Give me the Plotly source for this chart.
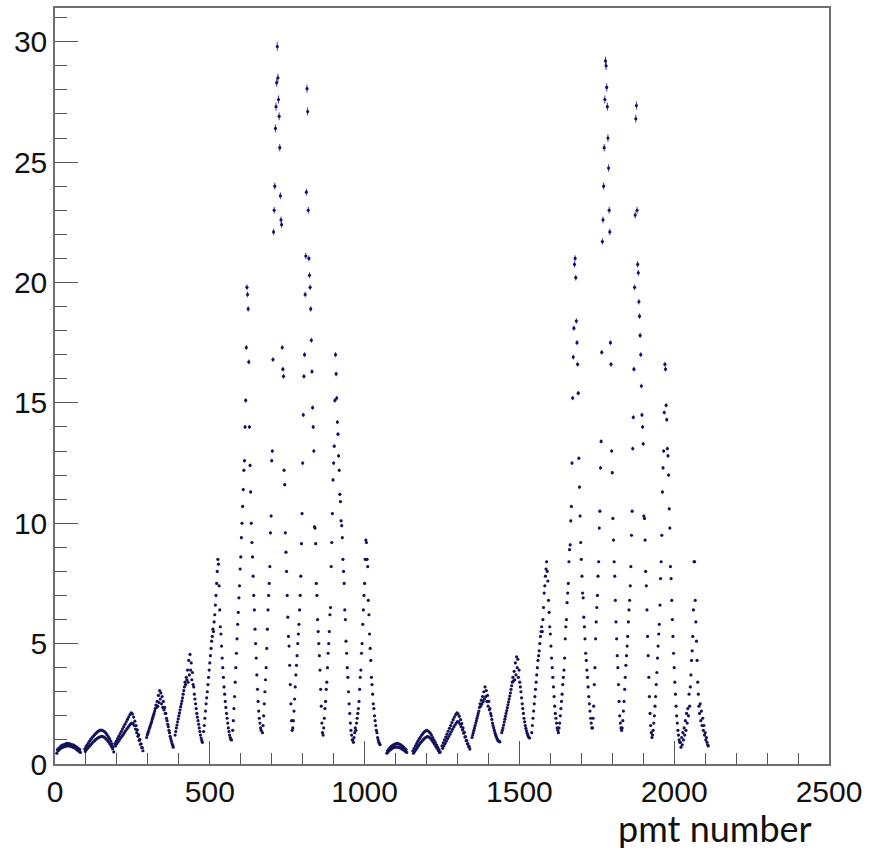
import plotly.graph_objects as go

# ring start PMT numbers (each ring's values sampled every 2nd PMT)
ring_starts = [6, 96, 194, 296, 388, 480, 574, 670, 768, 866, 962,
               1072, 1156, 1250, 1347, 1443, 1540, 1628, 1736, 1832, 1930, 2020]
pmt_step = 2

r01 = [0.45,0.6,0.55,0.65,0.6,0.7,0.65,0.75,0.68,0.78,0.7,0.8,0.72,0.82,0.74,0.85,0.75,0.86,0.76,0.85,
       0.75,0.84,0.74,0.82,0.72,0.8,0.7,0.78,0.68,0.75,0.65,0.72,0.6,0.68,0.56,0.64,0.52,0.6,0.48]
r02 = [0.62,0.52,0.72,0.6,0.8,0.66,0.88,0.72,0.96,0.78,1.03,0.84,1.1,0.9,1.16,0.95,1.22,1.0,1.27,1.04,
       1.32,1.08,1.36,1.11,1.4,1.13,1.41,1.15,1.4,1.14,1.38,1.12,1.34,1.08,1.29,1.03,1.22,0.97,1.14,0.9,
       1.05,0.82,0.95,0.73,0.84,0.63,0.72,0.5]
r03 = [0.85,0.75,0.95,0.85,1.05,0.92,1.15,1.0,1.25,1.08,1.35,1.15,1.45,1.22,1.55,1.3,1.65,1.38,1.75,1.45,
       1.85,1.52,1.95,1.6,2.05,1.66,2.12,1.7,2.08,1.68,1.95,1.6,1.78,1.45,1.6,1.3,1.42,1.15,1.22,0.98,
       1.02,0.82,0.84,0.68,0.68,0.55]
r04 = [1.1,1.2,1.28,1.36,1.45,1.52,1.6,1.68,1.76,1.85,1.94,2.02,2.1,2.2,2.3,2.45,2.35,2.6,2.4,2.85,
       2.55,3.05,2.7,2.95,2.5,2.8,2.35,2.6,2.25,2.35,2.1,2.1,1.9,1.8,1.65,1.55,1.4,1.3,1.15,1.05,
       0.95,0.85,0.78,0.7]
r05 = [1.2,1.35,1.5,1.62,1.75,1.88,2.0,2.12,2.25,2.38,2.5,2.62,2.75,2.9,3.05,3.2,3.4,3.3,3.6,3.5,
       3.9,3.4,4.3,3.7,4.55,3.9,4.2,3.5,3.8,3.3,3.2,2.9,2.7,2.5,2.3,2.1,1.95,1.8,1.65,1.5,
       1.35,1.2,1.08,0.98,0.9]
r06 = [1.35,1.6,1.9,2.2,2.5,2.75,3.0,3.3,3.6,3.9,4.2,4.5,4.8,5.1,5.3,5.6,5.5,5.9,6.2,6.6,
       7.0,7.5,8.0,8.5,8.3,7.4,6.4,5.7,5.4,4.9,4.4,4.0,3.6,3.2,2.9,2.6,2.35,2.1,1.9,1.7,
       1.5,1.35,1.2,1.1,1.02,1.0]
r07 = [1.4,1.8,2.3,2.8,3.4,4.0,4.6,5.2,5.8,6.3,6.9,7.4,8.1,8.6,9.4,10.0,10.7,11.4,12.2,12.6,14.0,15.1,17.3,
       19.8,19.5,18.9,
       16.7,14.0,12.4,11.3,10.0,9.2,8.6,7.8,7.0,6.4,5.6,5.0,4.4,3.7,3.1,2.6,2.2,1.9,1.7,1.5,1.4]
r08 = [1.3,1.6,2.0,2.5,3.0,3.5,4.0,4.8,5.6,6.4,7.0,7.5,8.2,9.6,10.3,12.6,13.0,16.8,
       22.1,23.0,24.0,26.4,27.3,28.3,29.8,28.5,27.6,26.9,25.6,23.6,22.6,22.4,
       17.3,16.4,16.1,12.2,11.6,9.6,8.8,8.0,7.0,6.1,5.3,4.9,4.1,3.3,2.5,1.8,1.4]
r09 = [1.5,1.8,2.2,2.7,3.2,3.7,4.1,4.5,5.0,5.4,5.8,6.4,7.0,7.8,9.15,10.4,12.5,14.5,
       16.1,17.0,19.5,21.1,23.75,28.05,27.1,23.0,21.0,20.3,19.8,18.9,17.6,
       16.3,14.8,14.0,13.0,9.85,9.8,9.15,7.5,7.0,6.0,5.5,5.0,4.5,3.9,3.1,2.4,1.7,1.3]
r10 = [1.2,1.5,1.9,2.3,2.6,3.1,3.4,4.0,4.6,5.0,5.5,6.2,6.5,8.2,9.2,10.4,11.8,
       12.5,13.2,15.1,17.0,16.2,15.2,14.2,13.7,12.8,12.2,11.2,10.9,10.1,
       9.9,9.4,8.5,8.0,7.5,6.4,6.0,5.1,4.6,4.0,3.6,3.0,2.5,2.1,1.7,1.4,1.2,1.0]
r11 = [1.0,0.9,1.1,1.3,1.5,1.4,1.7,1.9,2.1,2.3,2.6,3.1,3.6,3.9,4.6,5.0,5.8,6.4,7.0,7.5,
       8.5,9.3,9.2,8.5,
       8.2,6.8,6.2,5.4,4.8,4.3,3.6,3.3,2.9,2.5,2.3,2.0,1.8,1.6,1.4,1.3,1.1,1.0,0.9,0.85,0.8]
r12 = [0.45,0.55,0.5,0.62,0.56,0.68,0.6,0.73,0.64,0.77,0.67,0.8,0.69,0.83,0.7,0.85,0.71,0.86,0.7,0.84,
       0.68,0.82,0.66,0.78,0.63,0.74,0.6,0.7,0.56,0.65,0.52,0.6,0.48]
r13 = [0.55,0.45,0.65,0.52,0.75,0.6,0.85,0.68,0.94,0.76,1.03,0.83,1.11,0.9,1.19,0.96,1.26,1.02,1.32,1.07,
       1.37,1.11,1.4,1.14,1.38,1.13,1.34,1.1,1.28,1.05,1.2,0.98,1.1,0.9,1.0,0.82,0.9,0.73,0.8,0.65,
       0.7,0.56,0.6,0.48,0.5]
r14 = [0.75,0.65,0.88,0.75,1.0,0.85,1.12,0.95,1.24,1.05,1.36,1.14,1.48,1.24,1.6,1.34,1.72,1.44,1.84,1.54,
       1.95,1.62,2.05,1.7,2.12,1.76,2.08,1.74,1.98,1.66,1.84,1.55,1.68,1.42,1.5,1.28,1.32,1.12,1.14,0.97,
       0.98,0.84,0.84,0.72,0.72,0.62]
r15 = [1.1,1.2,1.3,1.4,1.5,1.6,1.7,1.8,1.9,2.0,2.1,2.2,2.35,2.5,2.4,2.65,2.5,2.8,2.6,3.0,
       2.7,3.2,2.8,3.05,2.6,2.85,2.4,2.6,2.25,2.3,2.1,2.0,1.85,1.7,1.6,1.5,1.4,1.3,1.22,1.15,
       1.08,1.02,0.98,0.95,0.93,0.92]
r16 = [1.3,1.4,1.5,1.62,1.74,1.86,1.98,2.1,2.22,2.34,2.46,2.58,2.7,2.82,2.95,3.1,3.25,3.4,3.6,3.45,
       3.85,3.5,4.2,3.7,4.45,4.0,4.35,3.6,3.9,3.4,3.2,3.0,2.75,2.5,2.3,2.1,1.9,1.75,1.6,1.48,
       1.38,1.28,1.2,1.14,1.1,1.08]
r17 = [1.3,1.6,1.9,2.2,2.5,2.8,3.1,3.4,3.7,4.0,4.3,4.5,4.7,5.0,5.3,5.5,5.7,5.5,6.0,6.5,
       7.1,7.4,7.8,8.1,8.4,8.0,7.6,6.8,6.3,5.7,5.4,4.9,4.4,4.0,3.6,3.2,2.8,2.4,2.1,1.9,
       1.7,1.5,1.4,1.3]
r18 = [1.5,1.7,2.0,2.3,2.6,2.9,3.3,3.6,3.9,4.4,5.2,5.7,6.0,6.7,7.1,7.5,8.4,8.9,9.1,10.1,
       10.7,12.5,15.2,16.9,18.1,20.75,21.0,20.2,18.4,17.5,16.6,15.4,12.7,11.5,
       10.3,9.2,8.5,7.8,7.1,6.9,6.1,5.7,5.2,4.6,4.3,3.9,3.6,3.2,2.8,2.5,2.2,1.9,1.7,1.5]
r19 = [1.5,1.9,2.4,3.3,4.0,5.2,5.9,6.5,7.0,7.8,8.4,9.8,10.5,12.3,
       13.4,17.1,21.7,22.6,24.0,25.6,27.6,29.2,29.0,28.1,27.3,26.0,24.75,23.0,22.1,
       17.5,16.6,13.0,12.1,10.2,9.3,8.4,7.8,6.8,5.9,5.2,4.5,4.0,3.3,2.6,2.0,1.7,1.5,1.4]
r20 = [1.5,1.8,2.2,2.6,3.1,3.6,4.1,4.5,4.9,5.3,5.9,6.4,6.8,7.4,8.2,9.5,10.5,
       13.1,14.4,16.4,19.8,22.8,26.8,27.35,23.0,20.75,20.4,19.2,18.6,17.8,17.0,15.7,
       14.5,14.0,13.3,10.3,10.2,9.3,8.0,7.4,6.4,5.3,4.5,3.6,2.8,2.1,1.6,1.3,1.1]
r21 = [1.2,1.4,1.7,2.0,2.4,2.8,3.3,3.8,4.4,4.9,5.4,5.8,6.6,7.7,8.4,9.5,11.3,
       12.3,13.0,14.6,16.6,16.4,14.9,14.3,13.1,12.8,12.0,10.6,
       9.8,8.2,7.7,6.8,6.0,5.3,4.6,4.0,3.4,2.9,2.4,2.0,1.7,1.4,1.2,1.0,0.9]
r22 = [0.9,0.7,1.1,0.8,1.3,1.0,1.5,1.2,1.8,1.4,2.1,1.7,2.3,2.0,2.9,2.4,3.2,3.7,4.3,4.7,
       5.3,6.4,8.4,8.4,6.8,5.9,5.1,4.3,3.4,2.9,2.4,2.1,2.5,1.8,2.2,1.6,1.9,1.4,1.6,1.2,
       1.3,1.0,1.1,0.9,0.8,0.75]

ring_values = [r01, r02, r03, r04, r05, r06, r07, r08, r09, r10, r11,
               r12, r13, r14, r15, r16, r17, r18, r19, r20, r21, r22]

x_ticks = [0, 500, 1000, 1500, 2000, 2500]
y_ticks = [0, 5, 10, 15, 20, 25, 30]

xs, ys = [], []
for start, vals in zip(ring_starts, ring_values):
    for i, v in enumerate(vals):
        xs.append(start + pmt_step * i)
        ys.append(v)

fig = go.Figure()
fig.add_trace(go.Scatter(
    x=xs, y=ys, mode="markers",
    marker=dict(size=3.2, color="#14145a"),
    error_y=dict(type="percent", value=0.6, color="#3434c8", thickness=1, width=0),
    showlegend=False,
))

axis_common = dict(
    showline=True, linecolor="#6e6e6e", linewidth=1.5, mirror=True,
    ticks="inside", tickcolor="#555555", tickwidth=1.2,
    showgrid=False, zeroline=False,
    tickfont=dict(family="Liberation Sans, Arial, sans-serif", size=30, color="#111111"),
)

fig.update_xaxes(range=[0, 2500], tickvals=x_ticks, ticklen=23,
                 minor=dict(dtick=100, ticklen=11, ticks="inside", tickcolor="#555555", tickwidth=1.2),
                 **axis_common)
fig.update_yaxes(range=[0, 31.4], tickvals=y_ticks, ticklen=23,
                 minor=dict(dtick=1, ticklen=12, ticks="inside", tickcolor="#555555", tickwidth=1.2),
                 **axis_common)

fig.add_annotation(text="pmt number", xref="paper", yref="paper",
                   x=0.979, y=-0.0844, xanchor="right", yanchor="middle",
                   showarrow=False, borderpad=0,
                   font=dict(family="Lato, Carlito, sans-serif", size=36, color="#111111"))

fig.update_layout(
    width=869, height=852,
    margin=dict(l=55, r=40, t=6, b=88),
    paper_bgcolor="white", plot_bgcolor="white",
)

fig.write_html("out.html")
